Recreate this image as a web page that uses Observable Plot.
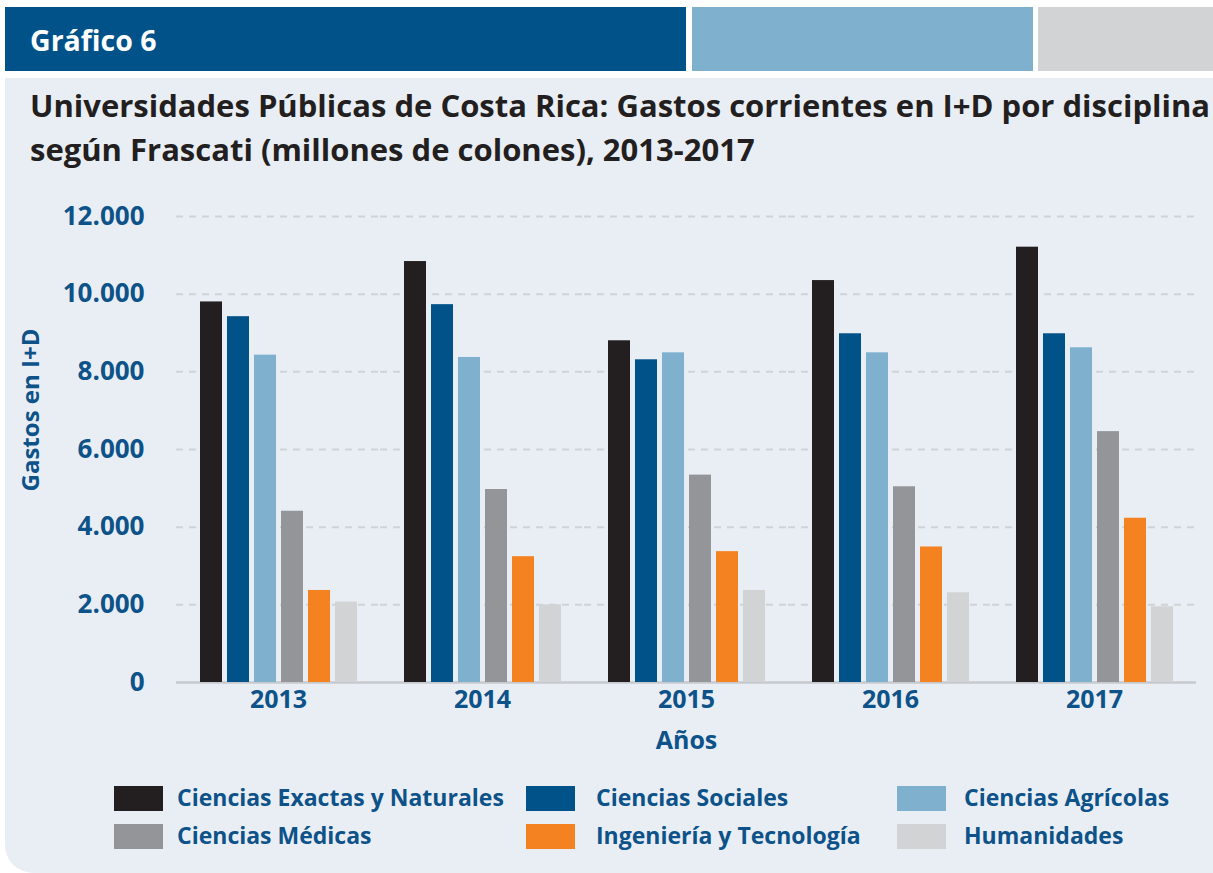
<!DOCTYPE html>
<html>
<head>
<meta charset="utf-8">
<script src="https://cdn.jsdelivr.net/npm/d3@7"></script>
<script src="https://cdn.jsdelivr.net/npm/@observablehq/plot@0.6"></script>
<style>
  html, body { margin: 0; padding: 0; background: #ffffff; }
  #page { position: relative; width: 1213px; height: 873px; overflow: hidden; font-family: "Open Sans", "Noto Sans", sans-serif; }
  .hdr { position: absolute; top: 7px; height: 64px; }
  #panel { position: absolute; left: 5px; top: 78px; width: 1208px; height: 795px; background: #e9eef5; border-bottom-left-radius: 28px; }
  #gtitle { position: absolute; left: 30px; top: 21px; color: #fff; font-weight: 700; font-size: 28.5px; white-space: nowrap; }
  .title { position: absolute; left: 30px; color: #231f20; font-weight: 700; font-size: 31px; line-height: 36px; white-space: nowrap; }
  #ylab { position: absolute; left: 29px; top: 410px; transform: translate(-50%, -50%) rotate(-90deg); color: #0d5288; font-weight: 700; font-size: 24px; white-space: nowrap; }
  #chart { position: absolute; left: 0; top: 190px; }
  .sw { position: absolute; width: 49px; height: 25px; }
  .legtxt { position: absolute; color: #0d5288; font-weight: 700; font-size: 23px; line-height: 25px; white-space: nowrap; }
</style>
</head>
<body>
<div id="page">
  <div class="hdr" style="left:5px;width:681px;background:#005288;"></div>
  <div class="hdr" style="left:692px;width:341px;background:#7fb1cf;"></div>
  <div class="hdr" style="left:1038px;width:175px;background:#d1d3d4;"></div>
  <div id="gtitle">Gráfico 6</div>
  <div id="panel"></div>
  <div class="title" style="top:87px;">Universidades Públicas de Costa Rica: Gastos corrientes en I+D por disciplina</div>
  <div class="title" style="top:131px;">según Frascati (millones de colones), 2013-2017</div>
  <div id="ylab">Gastos en I+D</div>
  <div id="chart"></div>
  <div id="legend"></div>
</div>
<script>
const years = ["2013", "2014", "2015", "2016", "2017"];
const disciplines = ["Ciencias Exactas y Naturales", "Ciencias Sociales", "Ciencias Agrícolas", "Ciencias Médicas", "Ingeniería y Tecnología", "Humanidades"];
const colors = ["#231f20", "#005288", "#7fb1cf", "#939598", "#f58220", "#d1d3d4"];
const exactas = [9800, 10840, 8800, 10350, 11210];
const sociales = [9420, 9730, 8310, 8980, 8980];
const agricolas = [8430, 8370, 8490, 8490, 8620];
const medicas = [4410, 4970, 5340, 5040, 6460];
const ingenieria = [2370, 3240, 3370, 3490, 4230];
const humanidades = [2070, 2000, 2370, 2310, 1950];
const yTicks = [0, 2000, 4000, 6000, 8000, 10000, 12000];

const series = [exactas, sociales, agricolas, medicas, ingenieria, humanidades];
const data = [];
years.forEach((yr, i) => {
  disciplines.forEach((d, j) => data.push({year: yr, disc: d, value: series[j][i]}));
});

const fmt = v => d3.format(",")(v).replace(/,/g, ".");

const chart = Plot.plot({
  width: 1213,
  height: 580,
  marginTop: 26,
  marginBottom: 88,
  marginLeft: 175,
  marginRight: 16,
  style: {background: "transparent", fontFamily: "'Open Sans', 'Noto Sans', sans-serif", fontWeight: "bold", fontSize: "25px", color: "#0d5288", overflow: "visible"},
  fx: {domain: years, padding: 0},
  x: {domain: disciplines, paddingInner: 0.2, paddingOuter: 0.8},
  y: {domain: [0, 12000]},
  color: {domain: disciplines, range: colors},
  marks: [
    Plot.ruleY(yTicks.filter(t => t > 0), {stroke: "#cfd3d8", strokeWidth: 2, strokeDasharray: "7,6"}),
    Plot.ruleY([0], {stroke: "#c6c9cd", strokeWidth: 2.5}),
    Plot.barY(data, {fx: "year", x: "disc", y: "value", fill: "disc"}),
    Plot.axisY(yTicks, {tickSize: 0, tickPadding: 32, tickFormat: fmt, label: null, fontSize: 26}),
    Plot.axisFx({anchor: "bottom", tickSize: 0, tickPadding: 8, label: "Años", labelAnchor: "center", labelOffset: 66, fontSize: 25}),
    Plot.axisX({ticks: [], label: null})
  ]
});
document.getElementById("chart").appendChild(chart);

const legend = document.getElementById("legend");
const swX = [114, 526, 897];
const txtX = [177, 596, 964];
const legY = [786, 824];
disciplines.forEach((d, i) => {
  const col = i % 3, row = Math.floor(i / 3);
  const sw = document.createElement("div");
  sw.className = "sw";
  sw.style.left = swX[col] + "px";
  sw.style.top = legY[row] + "px";
  sw.style.background = colors[i];
  legend.appendChild(sw);
  const t = document.createElement("div");
  t.className = "legtxt";
  t.style.left = txtX[col] + "px";
  t.style.top = (legY[row] - 1) + "px";
  t.textContent = d;
  legend.appendChild(t);
});
</script>
</body>
</html>
